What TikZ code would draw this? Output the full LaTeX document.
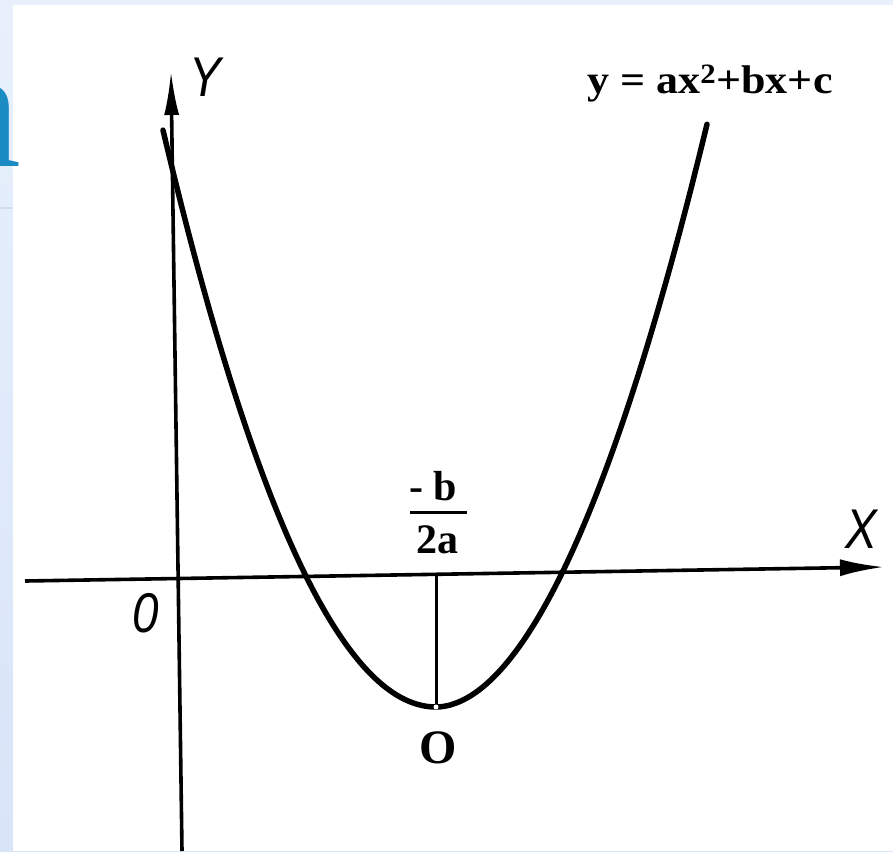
\documentclass[tikz,border=0pt]{standalone}
\usepackage{fontspec}
\setmainfont{Liberation Serif}
\newfontfamily\lsans{Liberation Sans}
\usetikzlibrary{arrows.meta}
\definecolor{bgblue}{HTML}{E8F0FC}
\definecolor{bgblue2}{HTML}{D8E4F8}
\definecolor{stripline}{HTML}{CFDBF1}
\definecolor{nblue}{HTML}{1B8BC4}
\tikzset{
  axis/.style={line width=3.6pt, black},
  curve/.style={line width=5.5pt, black, line join=round, line cap=round},
  axlabel/.style={font=\lsans\itshape\fontsize{56}{56}\selectfont, inner sep=0pt, xscale=0.85},
  boldlab/.style={font=\bfseries\fontsize{42}{42}\selectfont, inner sep=0pt},
  dot/.style={circle, fill=white, inner sep=0pt, minimum size=5pt}
}
\begin{document}
\begin{tikzpicture}[x=1pt,y=-1pt]
\useasboundingbox (0,0) rectangle (893,851);
\clip (0,0) rectangle (893,851);
% background
\shade[top color=bgblue, bottom color=bgblue2] (0,0) rectangle (893,851);
\fill[bgblue] (0,0) rectangle (893,5);
\fill[white] (13,5) rectangle (893,851);
\draw[stripline, line width=1.5pt] (0,208) -- (13,208);
% partial title letter
\node[font=\fontsize{172}{172}\selectfont, text=nblue, anchor=base east, inner sep=0pt] (n) at (22,166) {n};
% axes
\coordinate (xs) at (25,581);
\coordinate (xe) at (884,567);
\coordinate (ys) at (182,851);
\coordinate (ye) at (171,71);
\draw[axis, -{Latex[length=44pt,width=17pt]}] (xs) -- (xe);
\draw[axis, -{Latex[length=44pt,width=15pt]}] (ys) -- (ye);
% parabola
\draw[curve] plot[domain=-273:0, samples=80, smooth] ({436+\x},{707-0.774*(\x/10)*(\x/10)})
  -- plot[domain=0.5:271, samples=80, smooth] ({436+\x},{707-136*(\x/127)^1.92});
% vertex line
\coordinate (vtx) at (436,707);
\coordinate (foot) at (436,573);
\draw[line width=3pt] (vtx) -- (foot);
\node[dot] (vdot) at (vtx) {};
\node[dot, minimum size=4.5pt] (sdot) at (168,129) {};
% labels
\node[axlabel] (ylab) at (205,77) {Y};
\node[axlabel] (xlab) at (861,529) {X};
\node[axlabel] (olab) at (146,613) {0};
\node[font=\bfseries\fontsize{40}{40}\selectfont, inner sep=0pt, anchor=base, xscale=1.1] (eq) at (710,93) {y = ax\textsuperscript{2}+bx+c};
\node[boldlab, anchor=base] (num) at (433,500) {- b};
\draw[line width=3pt] (410,512) -- (467,512);
\node[boldlab, anchor=base] (den) at (437,553) {2a};
\node[font=\bfseries\fontsize{48}{48}\selectfont, inner sep=0pt] (vlab) at (438,748) {O};
\end{tikzpicture}
\end{document}
